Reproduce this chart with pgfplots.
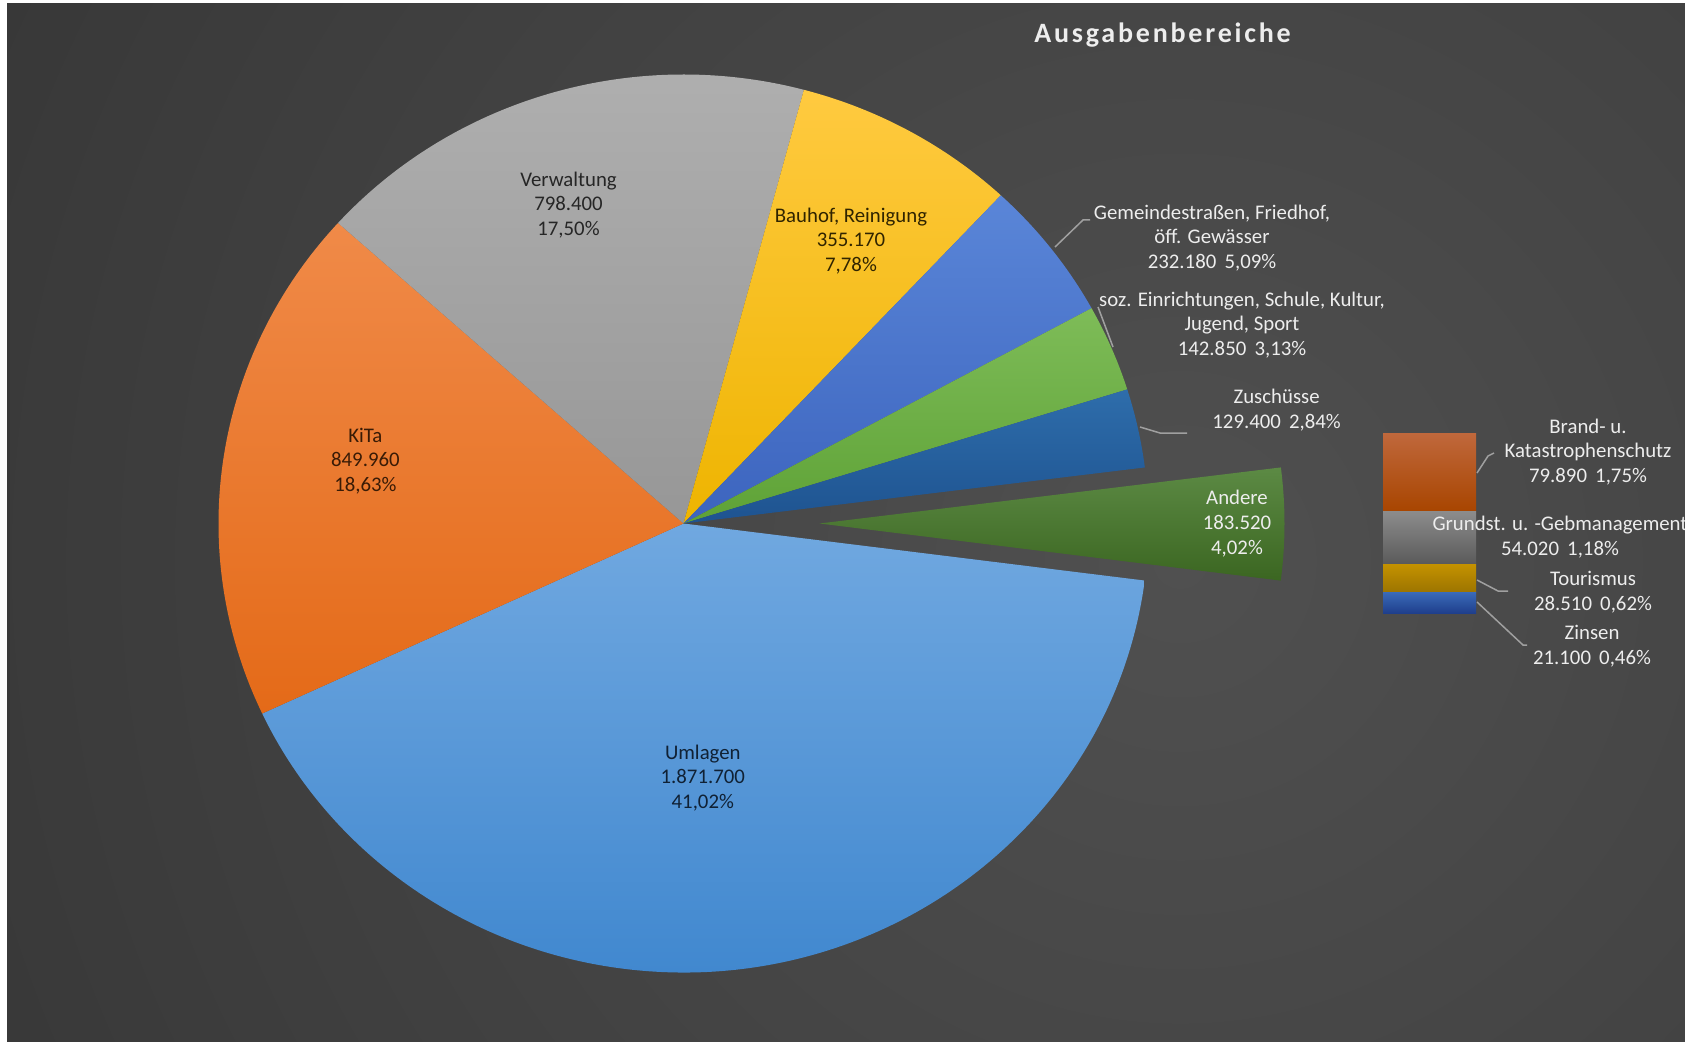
\documentclass[border=0pt]{standalone}
\usepackage{pgfplots}
\pgfplotsset{compat=1.18}
\usepackage{fontspec}
\setmainfont{Carlito}

% slice colours (top / bottom of the gradient)
\definecolor{umlT}{HTML}{70A8E0}\definecolor{umlB}{HTML}{3E86CE}
\definecolor{kitaT}{HTML}{F08A48}\definecolor{kitaB}{HTML}{E46A18}
\definecolor{verwT}{HTML}{B0B0B0}\definecolor{verwB}{HTML}{979797}
\definecolor{bauT}{HTML}{FFCA40}\definecolor{bauB}{HTML}{EEB400}
\definecolor{gemT}{HTML}{5A86D8}\definecolor{gemB}{HTML}{3C64BE}
\definecolor{sozT}{HTML}{7EBC58}\definecolor{sozB}{HTML}{5EA236}
\definecolor{zusT}{HTML}{2E6DAB}\definecolor{zusB}{HTML}{1E5390}
\definecolor{andT}{HTML}{5C8A44}\definecolor{andB}{HTML}{3B6621}
\definecolor{brandT}{HTML}{C0683C}\definecolor{brandB}{HTML}{A84500}
\definecolor{grdT}{HTML}{8C8C8C}\definecolor{grdB}{HTML}{5A5A5A}
\definecolor{tourT}{HTML}{C49200}\definecolor{tourB}{HTML}{9C7400}
\definecolor{zinsT}{HTML}{3A6AB8}\definecolor{zinsB}{HTML}{1F3F8C}
\definecolor{bgIn}{HTML}{505050}\definecolor{bgOut}{HTML}{222222}
\definecolor{lbl}{HTML}{EDEDED}\definecolor{lead}{HTML}{A0A0A0}

\begin{document}
\begin{tikzpicture}[
  lab/.style={align=center, text=lbl, font=\fontsize{10.4}{12.4}\selectfont},
  ldr/.style={draw=lead, line width=0.75pt}]
\path[use as bounding box] (0,0) rectangle (842.5pt,520.5pt);
\clip (0,0) rectangle (842.5pt,520.5pt);
% main axis: 1 unit = 1 px of the reference, y upwards
\begin{axis}[at={(0,0)}, anchor=south west, scale only axis,
  width=842.5pt, height=520.5pt,
  xmin=0, xmax=1685, ymin=0, ymax=1041, hide axis, clip=false]
\pgfplotsextra{
  \fill[white] (axis cs:0,0) rectangle (axis cs:1685,1041);
  \begin{scope}
    \clip (axis cs:7,0) rectangle (axis cs:1685,1037);
    \shade[inner color=bgIn, outer color=bgOut] (axis cs:1180,480) circle[radius=1250pt];
  \end{scope}
  % pie: values in thousands, clockwise from -7.3 deg
  \gdef\curang{-7.3}
  \foreach \v/\ct/\cb in {1871.70/umlT/umlB, 849.96/kitaT/kitaB, 798.40/verwT/verwB,
      355.17/bauT/bauB, 232.18/gemT/gemB, 142.85/sozT/sozB, 129.40/zusT/zusB}{
    \pgfmathsetmacro\newang{\curang-\v/4563.18*360}
    \path[top color=\ct, bottom color=\cb] (axis cs:683.5,517.5) -- ++(\curang:232.5pt and 224.5pt)
      arc[start angle=\curang, end angle=\newang, x radius=232.5pt, y radius=224.5pt] -- cycle;
    \xdef\curang{\newang}
  }
  % exploded "Andere" slice
  \pgfmathsetmacro\newang{\curang-183.52/4563.18*360}
  \path[top color=andT, bottom color=andB] (axis cs:819.5,517.5) -- ++(\curang:232.5pt and 224.5pt)
    arc[start angle=\curang, end angle=\newang, x radius=232.5pt, y radius=224.5pt] -- cycle;
}
% title
\node[anchor=base, text=lbl, font=\fontsize{14}{17}\selectfont\bfseries\addfontfeatures{LetterSpace=10}]
  at (axis cs:1162.5,998) {Ausgabenbereiche};
% labels inside the pie
\node[lab, text=black!85] at (axis cs:568.5,836) {Verwaltung\\798.400\\17,50\%};
\node[lab, text=black!80!bauB] at (axis cs:851,800) {Bauhof, Reinigung\\355.170\\7,78\%};
\node[lab, text=black!75!kitaB] at (axis cs:365.4,580) {KiTa\\849.960\\18,63\%};
\node[lab, text=black!75!umlB] at (axis cs:702.8,263) {Umlagen\\1.871.700\\41,02\%};
\node[lab] at (axis cs:1237,517.5) {Andere\\183.520\\4,02\%};
% labels outside
\node[lab] at (axis cs:1212,803) {Gemeindestraßen, Friedhof,\\öff. Gewässer\\232.180\ \,5,09\%};
\node[lab] at (axis cs:1242,716) {soz. Einrichtungen, Schule, Kultur,\\Jugend, Sport\\142.850\ \,3,13\%};
\node[lab] at (axis cs:1276.6,631) {Zuschüsse\\129.400\ \,2,84\%};
\node[lab] at (axis cs:1588,589) {Brand- u.\\Katastrophenschutz\\79.890\ \,1,75\%};
\node[lab] at (axis cs:1593,449) {Tourismus\\28.510\ \,0,62\%};
\node[lab] at (axis cs:1592,395) {Zinsen\\21.100\ \,0,46\%};
% leader lines
\draw[ldr] (axis cs:1055,794) -- (axis cs:1083,821) -- (axis cs:1090,821);
\draw[ldr] (axis cs:1113,694) -- (axis cs:1098,734);
\draw[ldr] (axis cs:1140,614) -- (axis cs:1160,608) -- (axis cs:1187,608);
\draw[ldr] (axis cs:1477,568) -- (axis cs:1488,585) -- (axis cs:1494,588);
\draw[ldr] (axis cs:1477,461) -- (axis cs:1498,450) -- (axis cs:1508,450);
\draw[ldr] (axis cs:1477,439) -- (axis cs:1523,396) -- (axis cs:1527,396);
\end{axis}
% stacked bar of "Andere" (thousands)
\begin{axis}[at={(691.5pt,214pt)}, anchor=south west, scale only axis,
  width=46.5pt, height=90pt, xmin=-0.5, xmax=0.5, ymin=0, ymax=183.52,
  hide axis, clip=false, ybar stacked, bar width=46.5pt]
\addplot[draw=none, top color=zinsT, bottom color=zinsB] coordinates {(0,21.10)};
\addplot[draw=none, top color=tourT, bottom color=tourB] coordinates {(0,28.51)};
\addplot[draw=none, top color=grdT, bottom color=grdB] coordinates {(0,54.02)};
\addplot[draw=none, top color=brandT, bottom color=brandB] coordinates {(0,79.89)};
\end{axis}
% label that overlaps the bar (1 px = 0.5pt)
\node[lab] at (780pt,251.75pt) {Grundst. u. -Gebmanagement\\54.020\ \,1,18\%};
\end{tikzpicture}
\end{document}
